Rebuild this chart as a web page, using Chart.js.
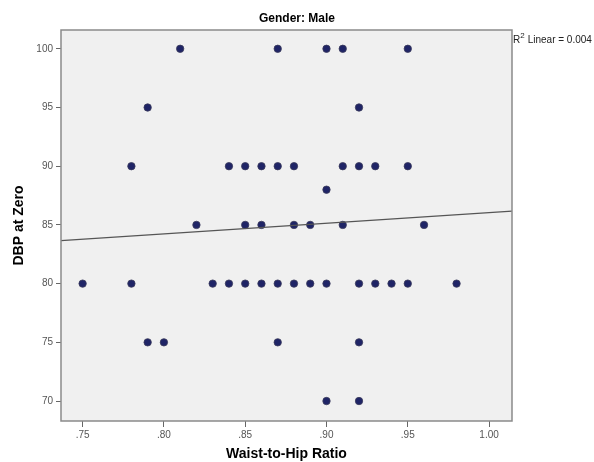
<!DOCTYPE html>
<html>
<head>
<meta charset="utf-8">
<script src="https://cdn.jsdelivr.net/npm/chart.js@4"></script>
<style>
  html, body { margin: 0; padding: 0; background: #fff; }
  #wrap { width: 594px; height: 462px; }
</style>
</head>
<body>
<div id="wrap"><canvas id="chart" width="594" height="462"></canvas></div>
<script>
// data
const whrValues = [
    .81, .87, .90, .91, .95,
    .79, .92,
    .78, .84, .85, .86, .87, .88, .91, .92, .93, .95,
    .90,
    .82, .85, .86, .88, .89, .91, .96,
    .75, .78, .83, .84, .85, .86, .87, .88, .89, .90, .92, .93, .94, .95, .98,
    .79, .80, .87, .92,
    .90, .92
];
const dbpValues = [
    100, 100, 100, 100, 100,
    95, 95,
    90, 90, 90, 90, 90, 90, 90, 90, 90, 90,
    88,
    85, 85, 85, 85, 85, 85, 85,
    80, 80, 80, 80, 80, 80, 80, 80, 80, 80, 80, 80, 80, 80, 80,
    75, 75, 75, 75,
    70, 70
];
// fit line end points
const fitX = [0.7367, 1.0141];
const fitY = [83.66, 86.17];

const xTicks = [0.75, 0.80, 0.85, 0.90, 0.95, 1.00];
const yTicks = [70, 75, 80, 85, 90, 95, 100];

const chartTitle = 'Gender: Male';
const fitLabel = 'Linear = 0.004';

const points = whrValues.map((x, i) => ({ x: x, y: dbpValues[i] }));
const fitLine = fitX.map((x, i) => ({ x: x, y: fitY[i] }));

// background, box and texts
const decor = {
    id: 'decor',
    beforeDraw(chart) {
        const { ctx, chartArea: a } = chart;
        ctx.save();
        ctx.fillStyle = '#f0f0f0';
        ctx.fillRect(a.left, a.top, a.right - a.left, a.bottom - a.top);
        ctx.restore();
    },
    afterDraw(chart) {
        const { ctx, chartArea: a } = chart;
        ctx.save();
        ctx.strokeStyle = '#8a8a8a';
        ctx.lineWidth = 1.5;
        ctx.strokeRect(a.left, a.top, a.right - a.left, a.bottom - a.top);

        ctx.fillStyle = '#000';
        ctx.font = 'bold 12px "Liberation Sans", Arial, sans-serif';
        ctx.textAlign = 'center';
        ctx.textBaseline = 'middle';
        ctx.fillText(chartTitle, 297, 19);

        // R² label
        ctx.fillStyle = '#222';
        ctx.textAlign = 'left';
        ctx.font = '10px "Liberation Sans", Arial, sans-serif';
        let x = a.right + 1;
        ctx.fillText('R', x, 40);
        x += ctx.measureText('R').width;
        ctx.font = '8px "Liberation Sans", Arial, sans-serif';
        ctx.fillText('2', x, 36);
        x += ctx.measureText('2').width + 3;
        ctx.font = '10px "Liberation Sans", Arial, sans-serif';
        ctx.fillText(fitLabel, x, 40);
        ctx.restore();
    }
};

const tickFont = { family: '"Liberation Sans", Arial, sans-serif', size: 10 };
const titleFont = { family: '"Liberation Sans", Arial, sans-serif', size: 14, weight: 'bold' };

new Chart(document.getElementById('chart'), {
    data: {
        datasets: [
            {
                type: 'line',
                data: fitLine,
                borderColor: '#555',
                borderWidth: 1.2,
                pointRadius: 0,
                fill: false,
                order: 0
            },
            {
                type: 'scatter',
                data: points,
                backgroundColor: '#1f2466',
                borderColor: '#3a3a5a',
                borderWidth: 0.8,
                pointRadius: 3.7,
                order: 1
            }
        ]
    },
    options: {
        responsive: false,
        animation: false,
        layout: { padding: { top: 30, right: 82, left: 0, bottom: 0 } },
        plugins: {
            legend: { display: false },
            tooltip: { enabled: false }
        },
        scales: {
            x: {
                type: 'linear',
                min: 0.7367,
                max: 1.0141,
                afterFit: s => { s.height = 41; },
                afterBuildTicks: s => { s.ticks = xTicks.map(v => ({ value: v })); },
                grid: { drawOnChartArea: false, drawTicks: true, tickLength: 6, tickColor: '#666', lineWidth: 1 },
                border: { display: false },
                ticks: {
                    font: tickFont,
                    color: '#555',
                    padding: 2,
                    maxRotation: 0,
                    autoSkip: false,
                    callback: v => v.toFixed(2).replace(/^0/, '')
                },
                title: { display: true, text: 'Waist-to-Hip Ratio', font: titleFont, color: '#000', padding: { top: 0, bottom: -1 } }
            },
            y: {
                type: 'linear',
                min: 68.3,
                max: 101.6,
                afterFit: s => { s.width = 61; },
                afterBuildTicks: s => { s.ticks = yTicks.map(v => ({ value: v })); },
                grid: { drawOnChartArea: false, drawTicks: true, tickLength: 5, tickColor: '#666', lineWidth: 1 },
                border: { display: false },
                ticks: {
                    font: tickFont,
                    color: '#555',
                    padding: 3,
                    autoSkip: false
                },
                title: { display: true, text: 'DBP at Zero', font: titleFont, color: '#000', padding: { top: 11, bottom: 0 } }
            }
        }
    },
    plugins: [decor]
});
</script>
</body>
</html>
